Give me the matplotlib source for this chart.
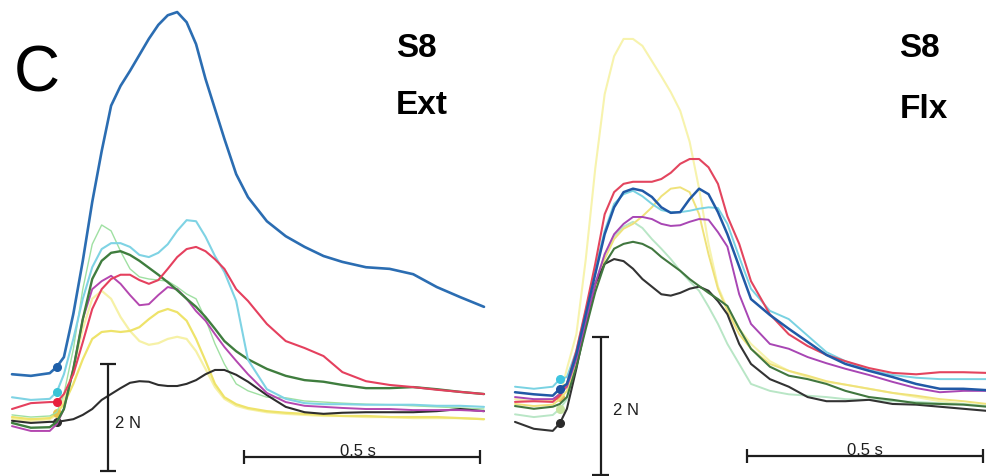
import matplotlib
matplotlib.use("Agg")
import matplotlib.pyplot as plt
import numpy as np

plt.rcParams['font.family'] = ['Liberation Sans', 'DejaVu Sans']

# ---------------- data ----------------
time_ms = [0, 40, 80, 95, 110, 130, 150, 170, 190, 210, 230, 250, 270, 290, 310, 330,
           350, 370, 390, 410, 430, 450, 475, 500, 540, 580, 620, 660, 700, 750, 800,
           850, 900, 950, 1000]

# Extensor (left panel), force in N
ext_blue = [0.93, 0.90, 0.95, 1.07, 1.25, 2.06, 3.05, 4.15, 5.10, 5.95, 6.32, 6.60, 6.90, 7.20, 7.46, 7.64,
            7.70, 7.51, 7.10, 6.45, 5.89, 5.33, 4.67, 4.24, 3.79, 3.51, 3.31, 3.14, 3.03, 2.93, 2.90,
            2.80, 2.56, 2.37, 2.19]
ext_cyan = [0.50, 0.45, 0.47, 0.60, 0.93, 1.59, 2.34, 2.93, 3.27, 3.38, 3.38, 3.31, 3.16, 3.12, 3.20, 3.36,
            3.61, 3.81, 3.79, 3.50, 3.14, 2.84, 2.30, 1.20, 0.65, 0.47, 0.39, 0.37, 0.37, 0.36, 0.36,
            0.36, 0.34, 0.34, 0.32]
ext_lightgreen = [0.17, 0.13, 0.15, 0.22, 0.56, 1.40, 2.52, 3.36, 3.72, 3.61, 3.23, 2.90, 2.75, 2.71, 2.69, 2.67,
                  2.56, 2.43, 2.34, 1.96, 1.50, 1.12, 0.75, 0.62, 0.50, 0.49, 0.43, 0.41, 0.39, 0.37, 0.36,
                  0.34, 0.32, 0.30, 0.28]
ext_darkgreen = [0.02, -0.07, -0.06, 0.04, 0.28, 1.03, 1.96, 2.71, 3.05, 3.20, 3.23, 3.16, 3.05, 2.92, 2.79, 2.65,
                 2.50, 2.34, 2.19, 2.00, 1.78, 1.55, 1.36, 1.21, 1.03, 0.90, 0.82, 0.79, 0.73, 0.67, 0.67,
                 0.69, 0.65, 0.60, 0.56]
ext_red = [0.28, 0.39, 0.41, 0.41, 0.56, 0.93, 1.53, 2.15, 2.52, 2.71, 2.79, 2.79, 2.69, 2.62, 2.69, 2.90,
           3.12, 3.27, 3.31, 3.23, 3.08, 2.90, 2.52, 2.30, 1.87, 1.55, 1.42, 1.27, 0.97, 0.80, 0.73,
           0.69, 0.64, 0.60, 0.56]
ext_magenta = [-0.04, -0.13, -0.13, 0.00, 0.28, 1.03, 1.96, 2.52, 2.67, 2.77, 2.62, 2.41, 2.22, 2.24, 2.41, 2.56,
               2.52, 2.34, 2.11, 1.93, 1.68, 1.44, 1.18, 0.93, 0.58, 0.41, 0.34, 0.32, 0.30, 0.28, 0.28,
               0.26, 0.26, 0.26, 0.24]
ext_yellow_a = [0.13, 0.09, 0.11, 0.21, 0.37, 0.75, 1.21, 1.59, 1.72, 1.74, 1.72, 1.74, 1.81, 1.96, 2.09, 2.15,
                2.09, 1.93, 1.59, 1.18, 0.75, 0.50, 0.37, 0.30, 0.24, 0.21, 0.19, 0.17, 0.15, 0.15, 0.13,
                0.13, 0.13, 0.11, 0.09]
ext_yellow_b = [0.09, 0.06, 0.09, 0.17, 0.47, 1.03, 1.78, 2.34, 2.49, 2.34, 2.00, 1.74, 1.55, 1.48, 1.51, 1.59,
                1.63, 1.59, 1.36, 1.03, 0.69, 0.47, 0.34, 0.28, 0.22, 0.19, 0.17, 0.15, 0.15, 0.13, 0.13,
                0.11, 0.11, 0.11, 0.09]
ext_black = [0.06, 0.02, 0.04, 0.04, 0.06, 0.09, 0.17, 0.28, 0.45, 0.56, 0.67, 0.77, 0.80, 0.79, 0.73, 0.71,
             0.71, 0.75, 0.82, 0.93, 1.01, 1.01, 0.92, 0.79, 0.54, 0.32, 0.22, 0.19, 0.21, 0.22, 0.22,
             0.22, 0.24, 0.28, 0.24]

# Flexor (right panel), force in N
flx_red = [0.32, 0.33, 0.32, 0.41, 0.58, 1.06, 1.67, 2.32, 3.04, 3.36, 3.48, 3.51, 3.51, 3.51, 3.55, 3.64,
           3.77, 3.84, 3.84, 3.72, 3.48, 3.01, 2.61, 2.07, 1.59, 1.30, 1.13, 1.00, 0.91, 0.81, 0.74,
           0.72, 0.75, 0.75, 0.74]
flx_blue = [0.46, 0.43, 0.41, 0.51, 0.58, 1.01, 1.59, 2.17, 2.75, 3.14, 3.36, 3.41, 3.38, 3.29, 3.14, 3.06,
            3.07, 3.26, 3.41, 3.33, 3.07, 2.75, 2.28, 1.81, 1.58, 1.38, 1.19, 1.00, 0.87, 0.77, 0.68,
            0.58, 0.51, 0.51, 0.49]
flx_cyan = [0.54, 0.51, 0.54, 0.65, 0.68, 1.06, 1.64, 2.25, 2.80, 3.19, 3.33, 3.38, 3.30, 3.19, 3.10, 3.07,
            3.07, 3.09, 3.12, 3.14, 3.13, 2.90, 2.42, 1.96, 1.64, 1.52, 1.28, 1.04, 0.91, 0.78, 0.71,
            0.67, 0.65, 0.65, 0.65]
flx_magenta = [0.39, 0.36, 0.36, 0.43, 0.54, 0.94, 1.49, 2.03, 2.46, 2.75, 2.90, 3.00, 3.00, 2.97, 2.90, 2.87,
               2.88, 2.93, 2.97, 2.96, 2.78, 2.57, 1.88, 1.45, 1.16, 1.09, 0.97, 0.88, 0.80, 0.71, 0.61,
               0.52, 0.46, 0.48, 0.48]
flx_lightgreen = [0.14, 0.10, 0.13, 0.22, 0.36, 0.87, 1.45, 2.03, 2.46, 2.72, 2.86, 2.93, 2.84, 2.68, 2.54, 2.39,
                  2.22, 2.07, 1.93, 1.70, 1.45, 1.16, 0.87, 0.58, 0.48, 0.43, 0.41, 0.39, 0.36, 0.35, 0.33,
                  0.32, 0.30, 0.29, 0.26]
flx_darkgreen = [0.26, 0.22, 0.25, 0.29, 0.39, 0.83, 1.38, 1.91, 2.32, 2.54, 2.61, 2.64, 2.61, 2.54, 2.42, 2.32,
                 2.22, 2.10, 2.00, 1.90, 1.81, 1.71, 1.38, 1.09, 0.83, 0.70, 0.65, 0.58, 0.48, 0.39, 0.35,
                 0.30, 0.29, 0.28, 0.25]
flx_black = [0.03, -0.07, -0.10, 0.01, 0.22, 0.80, 1.45, 2.03, 2.32, 2.39, 2.36, 2.25, 2.10, 1.99, 1.88, 1.86,
             1.90, 1.96, 1.99, 1.93, 1.78, 1.59, 1.16, 0.87, 0.65, 0.54, 0.39, 0.33, 0.33, 0.35, 0.29,
             0.28, 0.25, 0.22, 0.19]
flx_yellow_tall = [0.36, 0.33, 0.35, 0.39, 0.80, 1.30, 2.39, 3.70, 4.78, 5.33, 5.58, 5.58, 5.48, 5.26, 5.04, 4.81,
                   4.54, 4.09, 3.41, 2.61, 1.99, 1.67, 1.38, 1.16, 0.91, 0.77, 0.68, 0.61, 0.57, 0.51, 0.45,
                   0.39, 0.33, 0.29, 0.26]
flx_yellow_bump = [0.29, 0.26, 0.28, 0.36, 0.48, 0.87, 1.45, 1.96, 2.39, 2.68, 2.83, 2.90, 3.01, 3.14, 3.30, 3.41,
                   3.43, 3.36, 3.04, 2.46, 1.96, 1.64, 1.30, 1.09, 0.87, 0.77, 0.70, 0.62, 0.57, 0.51, 0.45,
                   0.41, 0.36, 0.33, 0.29]

scale_force_N = 2.0
scale_time_ms = 500
subject = "S8"
panel_letter = "C"
muscles = ["Ext", "Flx"]

# ---------------- figure ----------------
W, H = 987, 477
fig = plt.figure(figsize=(W / 100, H / 100), dpi=100)

axL = fig.add_axes([0, 0, 493 / W, 1])
axR = fig.add_axes([493 / W, 0, 494 / W, 1])
for ax in (axL, axR):
    ax.set_axis_off()
    ax.patch.set_alpha(0)

axL.set_xlim(-25.4, 1019.1)
axL.set_ylim(-0.972, 7.944)
axR.set_xlim(-46.6, 1000)
axR.set_ylim(-0.754, 6.159)

# (values, colour, linewidth, dot colour or None)
left_traces = [
    (ext_yellow_b, '#f6f1a6', 1.6, None),
    (ext_yellow_a, '#eee36a', 1.6, '#e6c24a'),
    (ext_lightgreen, '#9fe0a2', 1.0, None),
    (ext_black, '#2e2e2e', 1.5, '#2e2e2e'),
    (ext_magenta, '#b447b0', 1.4, None),
    (ext_darkgreen, '#3f7d3e', 1.7, None),
    (ext_cyan, '#7fd3e4', 1.5, '#39c3d6'),
    (ext_red, '#e5405e', 1.5, '#e8203c'),
    (ext_blue, '#2b6db2', 1.9, '#1f5fa8'),
]
right_traces = [
    (flx_yellow_tall, '#f7f3ad', 1.5, '#e8b860'),
    (flx_lightgreen, '#b9e6c6', 1.4, '#c8e4a0'),
    (flx_yellow_bump, '#efe27a', 1.4, None),
    (flx_black, '#333333', 1.5, '#2a2a2a'),
    (flx_darkgreen, '#41773f', 1.5, None),
    (flx_magenta, '#a846b4', 1.4, None),
    (flx_cyan, '#79d2e2', 1.4, '#3ec5e0'),
    (flx_red, '#e3455e', 1.5, None),
    (flx_blue, '#2159a6', 1.8, '#1f4f9f'),
]

t = np.array(time_ms)
dot_idx = time_ms.index(95)
for ax, traces in ((axL, left_traces), (axR, right_traces)):
    for vals, col, lw, dcol in traces:
        ax.plot(t, vals, color=col, lw=lw, solid_joinstyle='round', solid_capstyle='round')
        if dcol is not None:
            ax.plot(t[dot_idx], vals[dot_idx], 'o', color=dcol, ms=5.5, mec=dcol)

# ---------------- scale bars ----------------
bar_kw = dict(color='#1e1e1e', lw=1.6, solid_capstyle='butt')


def scale_bars(ax, vx, vy0, cap_half, hx0, hy, tick_half, n_txt, s_txt):
    ax.plot([vx, vx], [vy0, vy0 + scale_force_N], **bar_kw)
    for yy in (vy0, vy0 + scale_force_N):
        ax.plot([vx - cap_half, vx + cap_half], [yy, yy], **bar_kw)
    ax.plot([hx0, hx0 + scale_time_ms], [hy, hy], **bar_kw)
    for xx in (hx0, hx0 + scale_time_ms):
        ax.plot([xx, xx], [hy - tick_half, hy + tick_half], **bar_kw)
    ax.text(n_txt[0], n_txt[1], f"{scale_force_N:g} N", fontsize=12, ha='left', va='baseline',
            color='#1e1e1e')
    ax.text(s_txt[0], s_txt[1], f"{scale_time_ms / 1000:g} s", fontsize=12, ha='center', va='baseline',
            color='#1e1e1e')


scale_bars(axL, 204, -0.88, 17, 491.5, -0.617, 0.13, (218, -0.06), (733, -0.58))
scale_bars(axR, 182, -0.74, 18, 491.5, -0.464, 0.10, (208, 0.145), (741, -0.435))

# ---------------- labels ----------------
def fx(px):
    return px / W


def fy(py):
    return 1 - py / H


fig.text(fx(14), fy(92), panel_letter, fontsize=46, ha='left', va='baseline', color='black')
fig.text(fx(396), fy(57), subject, fontsize=24, fontweight='bold', ha='left', va='baseline')
fig.text(fx(396), fy(114), muscles[0], fontsize=24, fontweight='bold', ha='left', va='baseline')
fig.text(fx(899), fy(57), subject, fontsize=24, fontweight='bold', ha='left', va='baseline')
fig.text(fx(900), fy(118), muscles[1], fontsize=24, fontweight='bold', ha='left', va='baseline')

fig.savefig("out.png", dpi=100, facecolor='white')
